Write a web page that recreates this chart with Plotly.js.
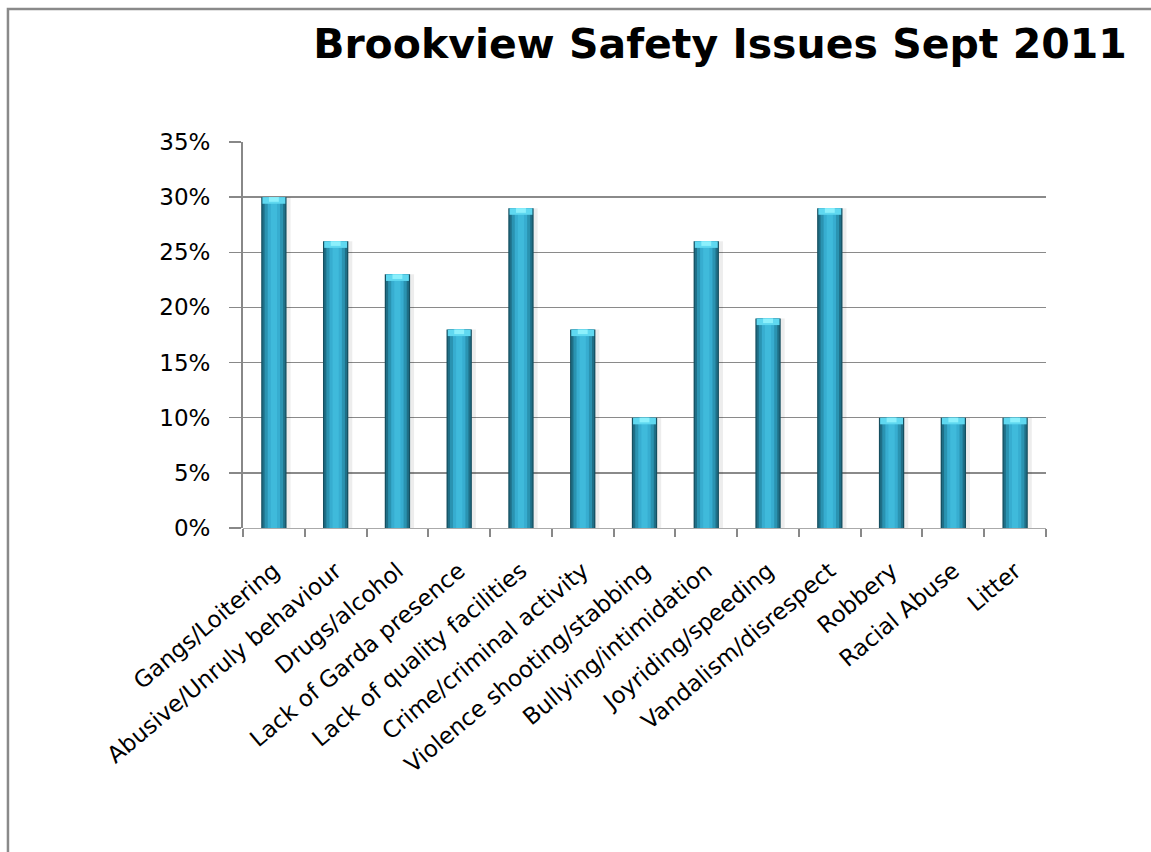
<!DOCTYPE html>
<html>
<head>
<meta charset="utf-8">
<script src="https://cdn.plot.ly/plotly-3.0.1.min.js"></script>
<style>
  html, body { margin: 0; padding: 0; background: #fff; }
  #chart { width: 1151px; height: 852px; }
</style>
</head>
<body>
<div id="chart"></div>
<script>
// ---- data ----
const categories = [
  "Gangs/Loitering",
  "Abusive/Unruly behaviour",
  "Drugs/alcohol",
  "Lack of Garda presence",
  "Lack of quality facilities",
  "Crime/criminal activity",
  "Violence shooting/stabbing",
  "Bullying/intimidation",
  "Joyriding/speeding",
  "Vandalism/disrespect",
  "Robbery",
  "Racial Abuse",
  "Litter"
];
const values = [0.30, 0.26, 0.23, 0.18, 0.29, 0.18, 0.10, 0.26, 0.19, 0.29, 0.10, 0.10, 0.10];
const chartTitle = "Brookview Safety Issues Sept 2011";

// ---- cylinder-look bars built from layered traces ----
const capH = 0.006;
function layer(width, color, opts) {
  return Object.assign({
    type: 'bar', x: categories, y: values, width: width,
    marker: { color: color, line: { width: 0 } },
    hoverinfo: 'skip', showlegend: false
  }, opts || {});
}
const traces = [
  layer(0.46, 'rgba(0,0,0,0.07)', { offset: -0.19 }),
  layer(0.41, '#154f60'),
  layer(0.37, '#1f6f87'),
  layer(0.30, '#2a93b1'),
  layer(0.20, '#37add0'),
  layer(0.10, '#3fbadb'),
  layer(0.37, '#5fd8f0', { y: values.map(() => capH), base: values.map(v => v - capH) }),
  layer(0.16, '#8cf0fc', { y: values.map(() => capH * 0.7), base: values.map(v => v - capH * 0.7) })
];

const layout = {
  width: 1151, height: 852,
  paper_bgcolor: '#fff', plot_bgcolor: '#fff',
  margin: { l: 243, r: 105, t: 142, b: 324, autoexpand: false },
  barmode: 'overlay',
  font: { family: 'DejaVu Sans, sans-serif', color: '#000' },
  title: {
    text: '<b>' + chartTitle + '</b>',
    font: { family: 'DejaVu Sans, sans-serif', size: 41, color: '#000' },
    x: 0.594, xanchor: 'center', xref: 'paper',
    y: 0.949, yanchor: 'middle'
  },
  xaxis: {
    type: 'category',
    tickangle: -40,
    tickfont: { size: 23, family: 'DejaVu Sans, sans-serif', color: '#000' },
    ticks: 'outside', ticklen: 8, tickwidth: 2, tickcolor: '#888',
    tickson: 'boundaries',
    showline: false, showgrid: false, zeroline: false,
    ticklabelstandoff: 24,
    fixedrange: true
  },
  yaxis: {
    range: [0, 0.35], dtick: 0.05, tick0: 0,
    tickformat: '.0%',
    tickfont: { size: 23, family: 'DejaVu Sans, sans-serif', color: '#000' },
    ticks: 'outside', ticklen: 12, tickwidth: 1.5, tickcolor: '#888',
    showgrid: true, gridcolor: '#8a8a8a', gridwidth: 1.3,
    showline: true, linecolor: '#888', linewidth: 2,
    zeroline: true, zerolinecolor: '#aaa', zerolinewidth: 1,
    ticklabelstandoff: 14,
    fixedrange: true
  },
  shapes: [{
    type: 'rect', xref: 'paper', yref: 'paper',
    x0: -0.2927, x1: 1.5, y0: -1.0, y1: 1.3446,
    line: { color: '#8a8a8a', width: 2.5 }, fillcolor: 'rgba(0,0,0,0)', layer: 'below'
  }]
};

Plotly.newPlot('chart', traces, layout, { displayModeBar: false, staticPlot: true });
</script>
</body>
</html>
